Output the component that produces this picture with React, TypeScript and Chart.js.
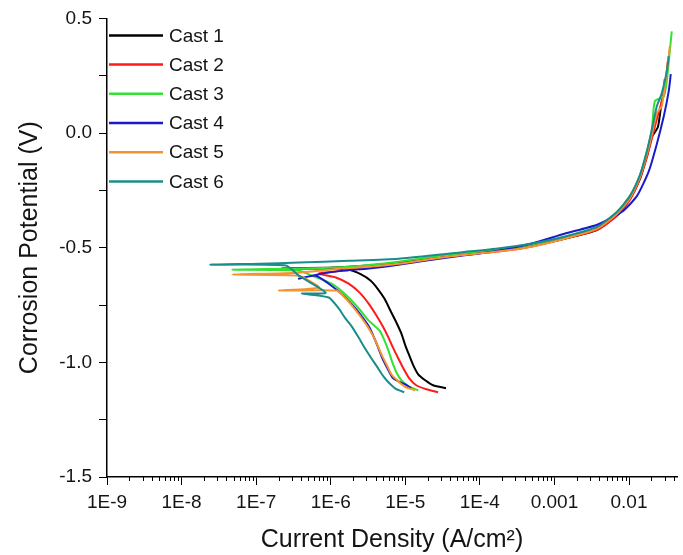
import React, { useEffect, useRef } from 'react';
import { Chart, registerables } from 'chart.js';

Chart.register(...registerables);

// ---------- data ----------
const seriesNames = ['Cast 1', 'Cast 2', 'Cast 3', 'Cast 4', 'Cast 5', 'Cast 6'];
const seriesColors = ['#000000', '#ff1a1a', '#33e033', '#1a1acc', '#f59330', '#1b8c8c'];

// [current density (A/cm2), potential (V)]
const cast1: [number, number][] = [
  [3.52e-5, -1.113], [2.36e-5, -1.1], [1.85e-5, -1.078], [1.49e-5, -1.052], [1.28e-5, -1.013],
  [1.13e-5, -0.97], [1.0e-5, -0.926], [8.85e-6, -0.874], [7.59e-6, -0.826], [6.31e-6, -0.774],
  [5.25e-6, -0.722], [4.24e-6, -0.678], [3.41e-6, -0.643], [2.59e-6, -0.617], [1.74e-6, -0.596],
  [6.92e-7, -0.591], [2.22e-7, -0.591], [9.4e-7, -0.587], [3.21e-6, -0.578], [8.07e-6, -0.565],
  [3.74e-5, -0.539], [1.74e-4, -0.513], [4.79e-4, -0.491], [1.36e-3, -0.461], [3.74e-3, -0.422],
  [6.92e-3, -0.357], [1.03e-2, -0.287], [1.4e-2, -0.2], [1.74e-2, -0.1], [2.03e-2, -0.017],
  [2.44e-2, 0.026], [2.75e-2, 0.139], [2.93e-2, 0.17], [3.02e-2, 0.235],
];
const cast2: [number, number][] = [
  [2.75e-5, -1.13], [1.91e-5, -1.117], [1.4e-5, -1.1], [1.13e-5, -1.07], [9.4e-6, -1.026],
  [8.07e-6, -0.983], [6.92e-6, -0.939], [5.93e-6, -0.891], [5.09e-6, -0.848], [4.1e-6, -0.796],
  [3.21e-6, -0.743], [2.44e-6, -0.696], [1.74e-6, -0.657], [1.17e-6, -0.63], [6.92e-7, -0.613],
  [1.49e-6, -0.6], [3.21e-6, -0.583], [8.07e-6, -0.57], [3.74e-5, -0.539], [1.74e-4, -0.517],
  [4.79e-4, -0.496], [1.36e-3, -0.461], [3.74e-3, -0.422], [6.92e-3, -0.361], [1.03e-2, -0.291],
  [1.4e-2, -0.2], [1.74e-2, -0.104], [2.03e-2, -0.022], [2.36e-2, 0.061], [2.75e-2, 0.139],
  [3.11e-2, 0.226], [3.31e-2, 0.313],
];
const cast3: [number, number][] = [
  [1.49e-5, -1.122], [1.1e-5, -1.104], [8.85e-6, -1.078], [7.59e-6, -1.043], [6.71e-6, -1.0],
  [5.93e-6, -0.948], [5.25e-6, -0.904], [4.5e-6, -0.861], [3.21e-6, -0.817], [2.51e-6, -0.774],
  [1.74e-6, -0.717], [1.03e-6, -0.657], [5.58e-7, -0.622], [3.74e-7, -0.6], [4.79e-8, -0.596],
  [3.74e-7, -0.591], [1.74e-6, -0.583], [8.07e-6, -0.561], [3.74e-5, -0.53], [1.74e-4, -0.509],
  [4.79e-4, -0.487], [1.36e-3, -0.452], [3.74e-3, -0.409], [6.92e-3, -0.343], [1.03e-2, -0.274],
  [1.4e-2, -0.183], [1.74e-2, -0.078], [2.03e-2, 0.017], [2.22e-2, 0.139], [2.93e-2, 0.161],
  [3.21e-2, 0.226], [3.52e-2, 0.357], [3.74e-2, 0.443],
];
const cast4: [number, number][] = [
  [1.2e-5, -1.113], [1.0e-5, -1.096], [8.07e-6, -1.083], [6.71e-6, -1.065], [5.75e-6, -1.026],
  [4.93e-6, -0.983], [4.37e-6, -0.939], [3.86e-6, -0.896], [3.31e-6, -0.848], [2.67e-6, -0.804],
  [2.15e-6, -0.765], [1.63e-6, -0.722], [1.28e-6, -0.691], [9.4e-7, -0.657], [6.31e-7, -0.622],
  [3.74e-7, -0.635], [7.59e-7, -0.613], [1.49e-6, -0.6], [3.21e-6, -0.591], [8.07e-6, -0.574],
  [3.74e-5, -0.543], [1.74e-4, -0.513], [4.79e-4, -0.483], [1.36e-3, -0.439], [3.74e-3, -0.4],
  [8.07e-3, -0.343], [1.28e-2, -0.274], [1.85e-2, -0.165], [2.36e-2, -0.048], [2.93e-2, 0.074],
  [3.41e-2, 0.183], [3.63e-2, 0.257],
];
const cast5: [number, number][] = [
  [1.36e-5, -1.122], [1.03e-5, -1.109], [8.07e-6, -1.083], [6.5e-6, -1.052], [5.75e-6, -1.017],
  [4.93e-6, -0.974], [4.37e-6, -0.935], [3.74e-6, -0.887], [3.11e-6, -0.843], [2.51e-6, -0.8],
  [2.03e-6, -0.761], [1.54e-6, -0.717], [1.2e-6, -0.687], [2.03e-7, -0.687], [6.92e-7, -0.674],
  [5.09e-7, -0.643], [3.74e-7, -0.622], [4.79e-8, -0.617], [3.74e-7, -0.609], [1.4e-6, -0.591],
  [3.21e-6, -0.583], [8.07e-6, -0.57], [3.74e-5, -0.539], [1.74e-4, -0.517], [4.79e-4, -0.496],
  [1.36e-3, -0.461], [3.74e-3, -0.417], [6.92e-3, -0.352], [1.03e-2, -0.283], [1.4e-2, -0.191],
  [1.74e-2, -0.091], [2.03e-2, -0.004], [2.36e-2, 0.087], [2.75e-2, 0.117], [3.02e-2, 0.204],
  [3.41e-2, 0.335], [3.52e-2, 0.378],
];
const cast6: [number, number][] = [
  [9.7e-6, -1.13], [7.59e-6, -1.117], [6.12e-6, -1.091], [5.09e-6, -1.061], [4.24e-6, -1.022],
  [3.52e-6, -0.983], [2.93e-6, -0.943], [2.36e-6, -0.891], [1.91e-6, -0.843], [1.54e-6, -0.804],
  [1.28e-6, -0.765], [9.4e-7, -0.717], [4.1e-7, -0.7], [8.58e-7, -0.696], [3.74e-7, -0.622],
  [2.51e-7, -0.578], [2.44e-8, -0.574], [1.1e-7, -0.57], [3.74e-7, -0.565], [1.74e-6, -0.557],
  [8.07e-6, -0.548], [3.74e-5, -0.526], [1.74e-4, -0.504], [4.79e-4, -0.483], [1.36e-3, -0.452],
  [3.74e-3, -0.409], [6.92e-3, -0.343], [1.03e-2, -0.274], [1.4e-2, -0.183], [1.74e-2, -0.078],
  [2.03e-2, 0.017], [2.36e-2, 0.117], [2.75e-2, 0.174], [3.21e-2, 0.27], [3.41e-2, 0.335],
];
const allSeries = [cast1, cast2, cast3, cast4, cast5, cast6];

const xMajorValues = [1e-9, 1e-8, 1e-7, 1e-6, 1e-5, 1e-4, 1e-3, 1e-2];
const xMajorLabels = ['1E-9', '1E-8', '1E-7', '1E-6', '1E-5', '1E-4', '0.001', '0.01'];
const xMin = 1e-9;
const xMax = 0.044;
const yMin = -1.5;
const yMax = 0.5;
const yTickValues = [0.5, 0.0, -0.5, -1.0, -1.5];
const yTickLabels = ['0.5', '0.0', '-0.5', '-1.0', '-1.5'];

const xTitle = 'Current Density (A/cm\u00B2)';
const yTitle = 'Corrosion Potential (V)';

// ---------- helpers ----------
const FONT = "'Liberation Sans', Arial, Helvetica, sans-serif";
const TEXT = '#141414';

function majorIndex(v: number): number {
  for (let i = 0; i < xMajorValues.length; i++) {
    if (Math.abs(v - xMajorValues[i]) / xMajorValues[i] < 1e-6) return i;
  }
  return -1;
}

const extrasPlugin = {
  id: 'extras',
  afterDraw(chart: any) {
    const ctx = chart.ctx as CanvasRenderingContext2D;
    const xs = chart.scales.x;
    const area = chart.chartArea;
    ctx.save();
    // minor x ticks (shorter)
    ctx.strokeStyle = '#000';
    ctx.lineWidth = 1;
    xs.ticks.forEach((t: any) => {
      const v = t.value;
      if (majorIndex(v) >= 0) return;
      const e = Math.floor(Math.log10(v) + 1e-9);
      const sig = v / Math.pow(10, e);
      if (Math.abs(sig - Math.round(sig)) > 1e-6) return;
      if (v >= xMax) return;
      const px = Math.round(xs.getPixelForValue(v)) + 0.5;
      ctx.beginPath();
      ctx.moveTo(px, area.bottom);
      ctx.lineTo(px, area.bottom + 4);
      ctx.stroke();
    });
    // legend inside plot, top-left
    ctx.font = `19px ${FONT}`;
    ctx.textBaseline = 'middle';
    ctx.textAlign = 'left';
    chart.data.datasets.forEach((ds: any, i: number) => {
      const y = area.top + 17 + i * 29.2;
      ctx.strokeStyle = ds.borderColor;
      ctx.lineWidth = 2.5;
      ctx.beginPath();
      ctx.moveTo(area.left + 2, y);
      ctx.lineTo(area.left + 56, y);
      ctx.stroke();
      ctx.fillStyle = TEXT;
      ctx.fillText(ds.label, area.left + 62, y + 1);
    });
    ctx.restore();
  },
};

export default function App() {
  const canvasRef = useRef<HTMLCanvasElement | null>(null);

  useEffect(() => {
    if (!canvasRef.current) return;
    const datasets = allSeries.map((s, i) => ({
      label: seriesNames[i],
      data: s.map(([x, y]) => ({ x, y })),
      borderColor: seriesColors[i],
      backgroundColor: seriesColors[i],
      borderWidth: 2,
      pointRadius: 0,
      showLine: true,
      fill: false,
      tension: 0.2,
      borderJoinStyle: 'round' as const,
      order: seriesNames.length - 1 - i,
    }));

    const chart = new Chart(canvasRef.current, {
      type: 'scatter',
      data: { datasets },
      options: {
        animation: false,
        responsive: false,
        maintainAspectRatio: false,
        layout: { padding: { top: 17, right: 3, left: 0, bottom: 0 } },
        plugins: {
          legend: { display: false },
          tooltip: { enabled: false },
        },
        scales: {
          x: {
            type: 'logarithmic',
            min: xMin,
            max: xMax,
            afterFit: (scale: any) => {
              scale.height = 78;
            },
            border: { display: true, color: '#000', width: 1.5 },
            grid: {
              display: true,
              drawOnChartArea: false,
              drawTicks: true,
              tickLength: 8,
              lineWidth: 1,
              color: (c: any) => (c.tick && majorIndex(c.tick.value) >= 0 ? '#000' : 'rgba(0,0,0,0)'),
            },
            ticks: {
              autoSkip: false,
              maxRotation: 0,
              minRotation: 0,
              padding: 6,
              color: TEXT,
              font: { family: FONT, size: 19 },
              callback: (v: any) => {
                const i = majorIndex(Number(v));
                return i >= 0 ? xMajorLabels[i] : '';
              },
            },
            title: {
              display: true,
              text: xTitle,
              color: TEXT,
              font: { family: FONT, size: 25 },
              padding: { top: 0, bottom: 0 },
            },
          },
          y: {
            type: 'linear',
            min: yMin,
            max: yMax,
            afterFit: (scale: any) => {
              scale.width = 107;
            },
            border: { display: true, color: '#000', width: 1.5 },
            grid: {
              display: true,
              drawOnChartArea: false,
              drawTicks: true,
              tickLength: 8,
              lineWidth: 1,
              color: '#000',
            },
            ticks: {
              stepSize: 0.25,
              autoSkip: false,
              padding: 7,
              color: TEXT,
              font: { family: FONT, size: 19 },
              callback: (v: any) => {
                const n = Number(v);
                for (let i = 0; i < yTickValues.length; i++) {
                  if (Math.abs(n - yTickValues[i]) < 1e-6) return yTickLabels[i];
                }
                return '';
              },
            },
            title: {
              display: true,
              text: yTitle,
              color: TEXT,
              font: { family: FONT, size: 25 },
              padding: { top: 15, bottom: 0 },
            },
          },
        },
      },
      plugins: [extrasPlugin],
    } as any);

    return () => {
      chart.destroy();
    };
  }, []);

  return (
    <div style={{ position: 'absolute', left: 0, top: 0, width: 683, height: 555, background: '#fff' }}>
      <canvas ref={canvasRef} width={683} height={555} style={{ display: 'block' }} />
    </div>
  );
}
